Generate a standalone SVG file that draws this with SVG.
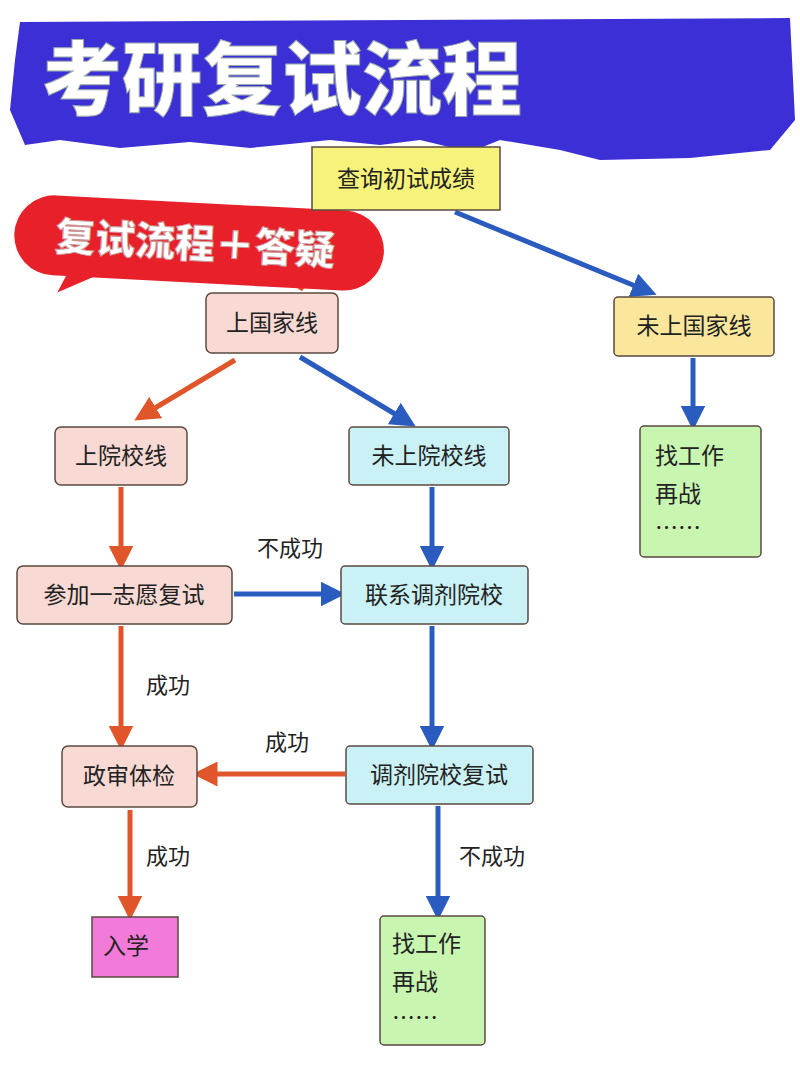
<svg xmlns="http://www.w3.org/2000/svg" width="800" height="1074" viewBox="0 0 800 1074">
<style>
.n{stroke:#5a4a40;stroke-width:1.5}
.t{font-family:"Noto Sans CJK SC",sans-serif;font-size:23px;fill:#222;text-anchor:middle}
.tl{font-family:"Noto Sans CJK SC",sans-serif;font-size:23px;fill:#222}
.o{stroke:#e0552a;stroke-width:5;fill:none;marker-end:url(#ao)}
.b{stroke:#2a5bbf;stroke-width:5;fill:none;marker-end:url(#ab)}
.lb{font-family:"Noto Sans CJK SC",sans-serif;font-size:22px;fill:#222;text-anchor:middle}
</style>
<defs>
<marker id="ao" markerWidth="5" markerHeight="5" refX="2.5" refY="2.5" orient="auto"><path d="M0,0 L5,2.5 L0,5 z" fill="#e0552a"/></marker>
<marker id="ab" markerWidth="5" markerHeight="5" refX="2.5" refY="2.5" orient="auto"><path d="M0,0 L5,2.5 L0,5 z" fill="#2a5bbf"/></marker>
</defs>
<rect width="800" height="1074" fill="#fff"/>
<g id="header">
<path d="M20,22 L790,18 L795,120 L770,150 L690,158 L600,160 L560,150 L500,140 L470,152 L420,140 L380,145 L330,140 L250,148 L190,142 L120,148 L60,140 L25,145 L10,110 L15,60 Z" fill="#3d2fd6"/>
<text x="42" y="108" font-family="Noto Sans CJK SC,sans-serif" font-size="80" font-weight="900" fill="#fff" stroke="#9aa" stroke-width="1">考研复试流程</text>
</g>
<g id="connectors">
<line x1="345" y1="212" x2="300" y2="290" stroke="#e0552a" stroke-width="5"/>
<line class="b" x1="455" y1="212" x2="645" y2="290"/>
<line class="o" x1="235" y1="360" x2="145" y2="414"/>
<line class="b" x1="300" y1="357" x2="405" y2="420"/>
<line class="b" x1="693" y1="358" x2="693" y2="418"/>
<line class="o" x1="121" y1="487" x2="121" y2="558"/>
<line class="b" x1="432" y1="487" x2="432" y2="558"/>
<line class="b" x1="234" y1="594" x2="333" y2="594"/>
<line class="o" x1="121" y1="626" x2="121" y2="738"/>
<line class="b" x1="432" y1="626" x2="432" y2="738"/>
<line class="o" x1="345" y1="774" x2="205" y2="774"/>
<line class="o" x1="130" y1="810" x2="130" y2="908"/>
<line class="b" x1="438" y1="806" x2="438" y2="908"/>
<text class="lb" x="290" y="556">不成功</text>
<text class="lb" x="168" y="693">成功</text>
<text class="lb" x="287" y="750">成功</text>
<text class="lb" x="168" y="864">成功</text>
<text class="lb" x="492" y="864">不成功</text>
</g>
<g id="banner" transform="rotate(3 200 245)">
<rect x="14" y="203" width="370" height="80" rx="40" fill="#e8202a"/>
<path d="M70,278 L60,300 L100,280 Z" fill="#e8202a"/>
<text x="195" y="258" font-family="Noto Sans CJK SC,sans-serif" font-size="40" font-weight="900" fill="#fff" text-anchor="middle" stroke="#c99" stroke-width="1">复试流程＋答疑</text>
</g>
<g id="n1"><rect class="n" x="312" y="147" width="188" height="63" fill="#f7f37a"/><text class="t" x="406" y="187">查询初试成绩</text></g>
<g id="n2"><rect class="n" x="206" y="293" width="132" height="60" rx="6" fill="#f9d9d3"/><text class="t" x="272" y="331">上国家线</text></g>
<g id="n3"><rect class="n" x="614" y="297" width="160" height="59" rx="4" fill="#fbe79c"/><text class="t" x="694" y="334">未上国家线</text></g>
<g id="n4"><rect class="n" x="55" y="427" width="132" height="58" rx="6" fill="#f9d9d3"/><text class="t" x="121" y="464">上院校线</text></g>
<g id="n5"><rect class="n" x="349" y="427" width="160" height="58" rx="4" fill="#c9f1f6"/><text class="t" x="429" y="464">未上院校线</text></g>
<g id="n6"><rect class="n" x="640" y="426" width="121" height="131" rx="4" fill="#c8f5b0"/><text class="tl" x="655" y="464">找工作</text><text class="tl" x="655" y="502">再战</text><text class="tl" x="655" y="536">……</text></g>
<g id="n7"><rect class="n" x="17" y="566" width="215" height="58" rx="6" fill="#f9d9d3"/><text class="t" x="124" y="603">参加一志愿复试</text></g>
<g id="n8"><rect class="n" x="341" y="566" width="187" height="58" rx="4" fill="#c9f1f6"/><text class="t" x="434" y="603">联系调剂院校</text></g>
<g id="n9"><rect class="n" x="62" y="746" width="135" height="61" rx="6" fill="#f9d9d3"/><text class="t" x="129" y="784">政审体检</text></g>
<g id="n10"><rect class="n" x="346" y="746" width="187" height="58" rx="4" fill="#c9f1f6"/><text class="t" x="439" y="783">调剂院校复试</text></g>
<g id="n11"><rect class="n" x="92" y="917" width="86" height="60" fill="#f27ad8"/><text class="tl" x="103" y="954">入学</text></g>
<g id="n12"><rect class="n" x="380" y="916" width="105" height="129" rx="4" fill="#c8f5b0"/><text class="tl" x="392" y="952">找工作</text><text class="tl" x="392" y="990">再战</text><text class="tl" x="392" y="1026">……</text></g>
</svg>
